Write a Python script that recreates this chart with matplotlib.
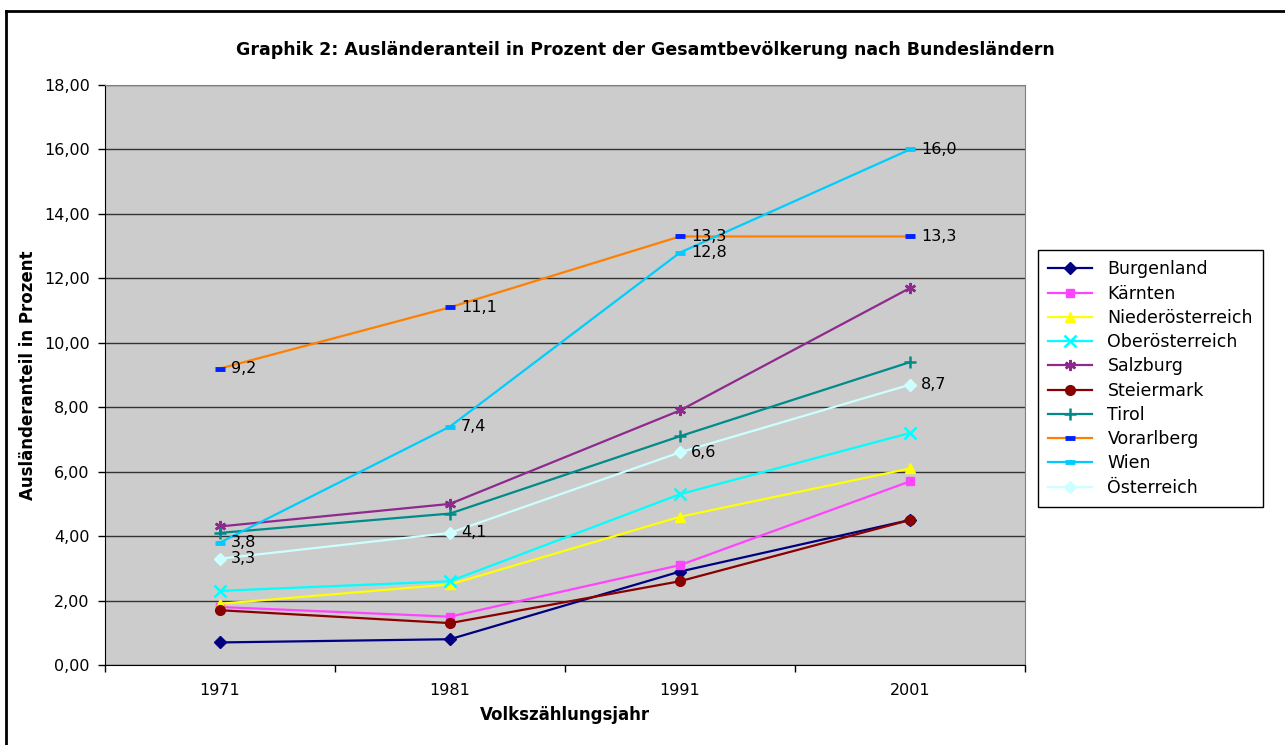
import numpy as np
import matplotlib.pyplot as plt
from matplotlib.lines import Line2D
from matplotlib.ticker import FuncFormatter

# Data
years = ['1971', '1981', '1991', '2001']
burgenland = [0.7, 0.8, 2.9, 4.5]
kaernten = [1.8, 1.5, 3.1, 5.7]
niederoesterreich = [1.9, 2.5, 4.6, 6.1]
oberoesterreich = [2.3, 2.6, 5.3, 7.2]
salzburg = [4.3, 5.0, 7.9, 11.7]
steiermark = [1.7, 1.3, 2.6, 4.5]
tirol = [4.1, 4.7, 7.1, 9.4]
vorarlberg = [9.2, 11.1, 13.3, 13.3]
wien = [3.8, 7.4, 12.8, 16.0]
oesterreich = [3.3, 4.1, 6.6, 8.7]

# name, values, line colour, marker, marker colour, labelled?
series = [
    ('Burgenland', burgenland, '#000080', 'D', '#000080', False),
    ('Kärnten', kaernten, '#FF44FF', 's', '#FF44FF', False),
    ('Niederösterreich', niederoesterreich, '#FFFF00', '^', '#FFFF00', False),
    ('Oberösterreich', oberoesterreich, '#00FFFF', 'x', '#00FFFF', False),
    ('Salzburg', salzburg, '#8E2A8E', (6, 2, 0), '#8E2A8E', False),
    ('Steiermark', steiermark, '#880000', 'o', '#880000', False),
    ('Tirol', tirol, '#008B8B', '+', '#008B8B', False),
    ('Vorarlberg', vorarlberg, '#FF8000', '_', '#0022FF', True),
    ('Wien', wien, '#00CCFF', '_', '#00CCFF', True),
    ('Österreich', oesterreich, '#CCFFFF', 'D', '#CCFFFF', True),
]

fig = plt.figure(figsize=(12.85, 7.45), dpi=100)
ax = fig.add_axes([105 / 1285, 80 / 745, 920 / 1285, 580 / 745])
ax.set_facecolor('#CCCCCC')

x = np.arange(len(years))
for name, vals, col, mk, mcol, lab in series:
    ms = 6
    mew = 1
    if mk == '_':
        ms, mew = 7, 3.5
    elif mk in ('x', '+', (6, 2, 0)):
        ms, mew = 8, 1.8
    elif mk == 'o':
        ms = 7
    elif mk == '^':
        ms = 7.5
    ax.plot(x, vals, color=col, lw=1.6, marker=mk, markersize=ms,
            markerfacecolor=mcol, markeredgecolor=mcol, markeredgewidth=mew,
            label=name, zorder=3)
    if lab:
        for xi, v in zip(x, vals):
            ax.annotate(f'{v:.1f}'.replace('.', ','), (xi, v), xytext=(11, 0),
                        textcoords='offset pixels', va='center', ha='left',
                        fontsize=11.5, color='black', zorder=4)

ax.set_xlim(-0.5, 3.5)
ax.set_ylim(0, 18)
ax.set_yticks(np.arange(0, 19, 2))
ax.yaxis.set_major_formatter(FuncFormatter(lambda v, p: f'{v:.2f}'.replace('.', ',')))
ax.set_xticks(x)
ax.set_xticklabels(years)
ax.set_xticks(np.arange(-0.5, 4, 1), minor=True)
ax.tick_params(axis='x', which='major', length=0, pad=13, labelsize=11.5)
ax.tick_params(axis='x', which='minor', length=5, width=1, direction='out')
ax.tick_params(axis='y', length=5, width=1, direction='out', pad=6, labelsize=11.5)

ax.grid(axis='y', color='#333333', lw=1, zorder=1)
ax.set_axisbelow(True)
for side in ['top', 'right']:
    ax.spines[side].set_color('#808080')
for side in ['left', 'bottom']:
    ax.spines[side].set_color('black')

ax.set_xlabel('Volkszählungsjahr', fontsize=12, fontweight='bold', labelpad=6)
ax.set_ylabel('Ausländeranteil in Prozent', fontsize=12, fontweight='bold', labelpad=5)
fig.text(645 / 1285, 1 - 50 / 745,
         'Graphik 2: Ausländeranteil in Prozent der Gesamtbevölkerung nach Bundesländern',
         ha='center', va='center', fontsize=12.5, fontweight='bold')

leg = ax.legend(loc='upper left', bbox_to_anchor=(1038 / 1285, 1 - 250 / 745),
                bbox_transform=fig.transFigure, fontsize=12.5, frameon=True,
                fancybox=False, edgecolor='black', facecolor='white', framealpha=1,
                borderpad=0.6, labelspacing=0.36, handlelength=2.5, handletextpad=0.9,
                borderaxespad=0)
leg.get_frame().set_linewidth(1)

# outer chart border (only left and top visible)
fig.add_artist(Line2D([6 / 1285, 6 / 1285], [0, 1 - 11 / 745], color='black', lw=2,
                      transform=fig.transFigure))
fig.add_artist(Line2D([6 / 1285, 1], [1 - 11 / 745, 1 - 11 / 745], color='black', lw=2,
                      transform=fig.transFigure))

fig.savefig('out.png', dpi=100)
